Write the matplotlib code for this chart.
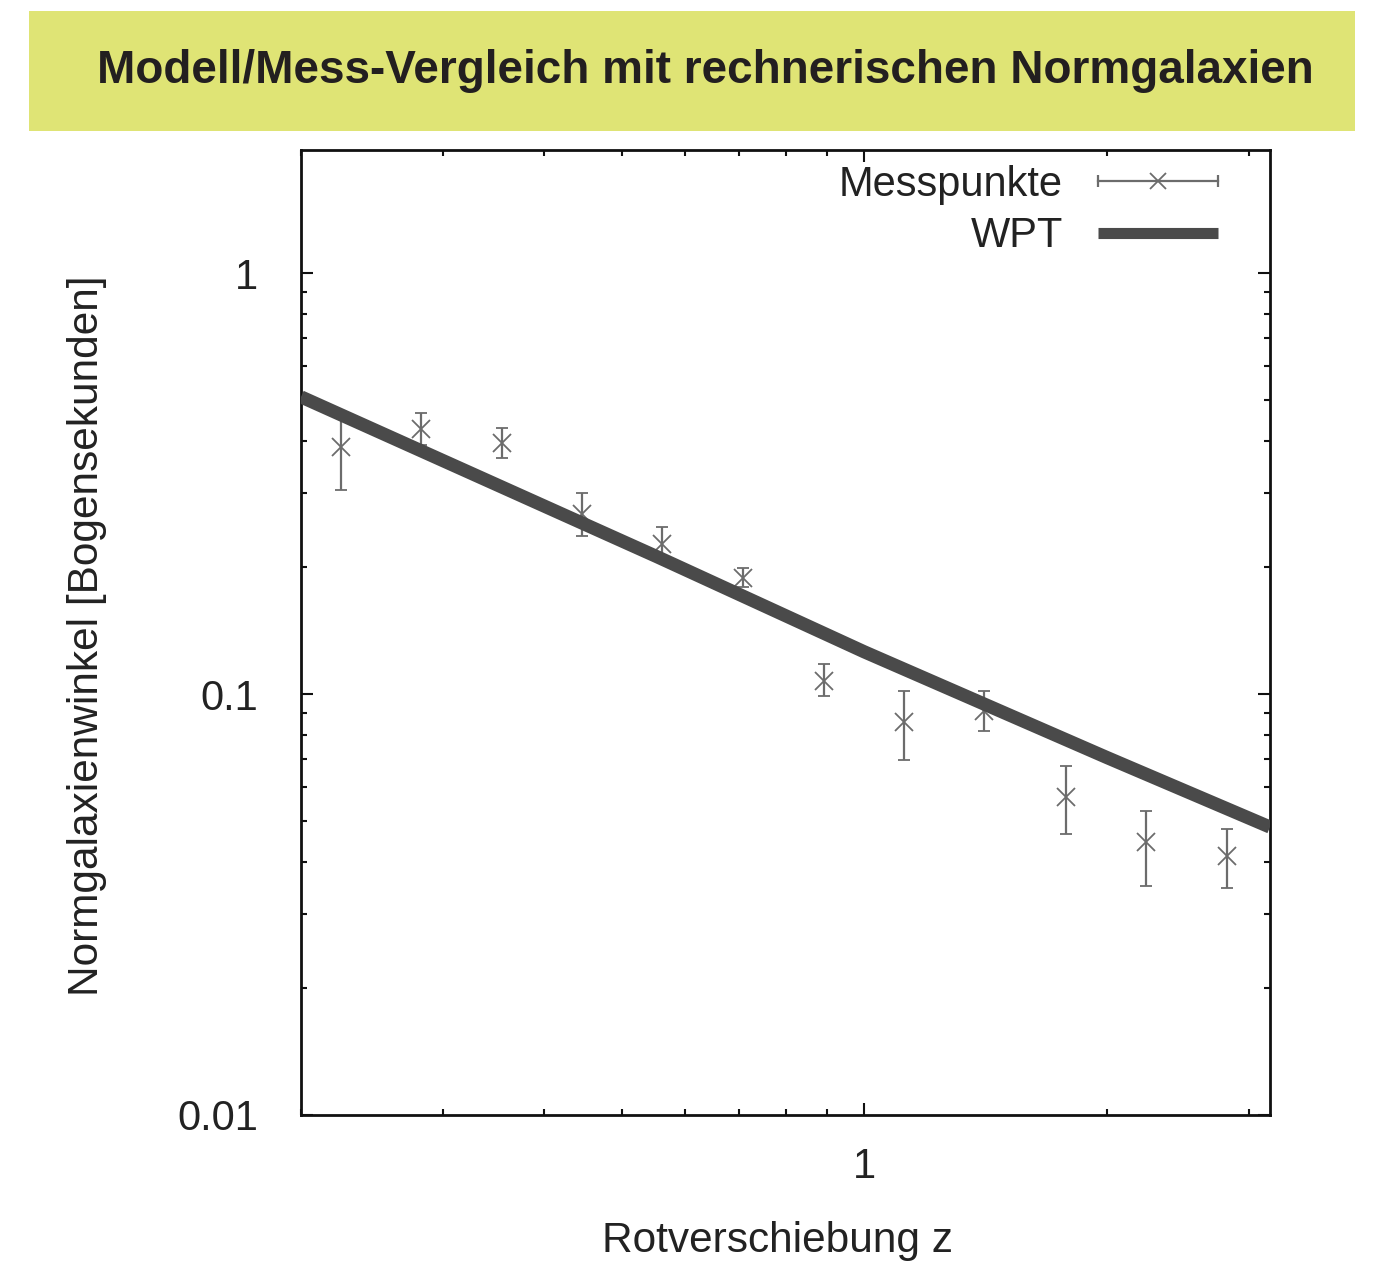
import numpy as np
import matplotlib
matplotlib.use("Agg")
import matplotlib.pyplot as plt
from matplotlib.patches import Rectangle
from matplotlib.lines import Line2D
from matplotlib.legend_handler import HandlerBase
from matplotlib.ticker import LogLocator, FuncFormatter, NullFormatter

plt.rcParams['font.family'] = ['Liberation Sans', 'DejaVu Sans']

# ---- data ----
z_mess = [0.224, 0.282, 0.355, 0.447, 0.562, 0.708, 0.891, 1.12, 1.41, 1.78, 2.24, 2.82]
theta_mess = [0.386, 0.426, 0.3946, 0.2677, 0.2271, 0.1887, 0.1074, 0.0858, 0.0911, 0.0569, 0.0445, 0.0412]
theta_hi = [0.465, 0.465, 0.4285, 0.3002, 0.2493, 0.1993, 0.1178, 0.1016, 0.1016, 0.0675, 0.0527, 0.0478]
theta_lo = [0.305, 0.390, 0.3635, 0.2373, 0.2070, 0.1796, 0.0989, 0.0697, 0.0817, 0.0465, 0.0350, 0.0346]

z_wpt = [0.2, 0.553, 1.0, 2.0, 3.19]
theta_wpt = [0.508, 0.212, 0.126, 0.0707, 0.0483]

title = "Modell/Mess-Vergleich mit rechnerischen Normgalaxien"
xlabel = "Rotverschiebung z"
ylabel = "Normgalaxienwinkel [Bogensekunden]"
label_mess = "Messpunkte"
label_wpt = "WPT"

ERR_COLOR = "#6c6c6c"
LINE_COLOR = "#4a4a4a"

W, H = 1394, 1261
fig = plt.figure(figsize=(W / 100, H / 100), dpi=100)

# title banner
fig.patches.append(Rectangle((29 / W, 1 - 131 / H), (1355 - 29) / W, 120 / H,
                             transform=fig.transFigure, facecolor="#dfe475",
                             edgecolor="none", zorder=0))
fig.text(705 / W, 1 - 83 / H, title, ha="center", va="baseline",
         fontsize=33, fontweight="bold", color="#231f20")

ax = fig.add_axes([301 / W, 1 - 1115 / H, (1270 - 301) / W, (1115 - 150) / H])
ax.set_xscale("log")
ax.set_yscale("log")

y = np.array(theta_mess)
yerr = [y - np.array(theta_lo), np.array(theta_hi) - y]
ax.errorbar(z_mess, theta_mess, yerr=yerr, fmt="x", color=ERR_COLOR,
            ms=13, mew=1.3, elinewidth=1.6, capsize=4.5, capthick=1.6, zorder=2)
ax.plot(z_wpt, theta_wpt, color=LINE_COLOR, lw=9.5, solid_capstyle="butt",
        solid_joinstyle="round", zorder=3)

ax.set_xlim(0.2, 3.19)
ax.set_ylim(0.01, 1.96)

ax.xaxis.set_major_locator(LogLocator(base=10))
ax.xaxis.set_minor_locator(LogLocator(base=10, subs=np.arange(2, 10)))
ax.yaxis.set_major_locator(LogLocator(base=10))
ax.yaxis.set_minor_locator(LogLocator(base=10, subs=np.arange(2, 10)))
fmt = FuncFormatter(lambda v, p: f"{v:g}")
ax.xaxis.set_major_formatter(fmt)
ax.yaxis.set_major_formatter(fmt)
ax.xaxis.set_minor_formatter(NullFormatter())
ax.yaxis.set_minor_formatter(NullFormatter())

ax.tick_params(which="both", direction="in", top=True, right=True, colors="#111111")
ax.tick_params(which="major", length=8.6, width=1.5)
ax.tick_params(which="minor", length=4.3, width=1.5)
ax.tick_params(axis="x", which="major", pad=23, labelsize=30, labelcolor="#222222")
ax.tick_params(axis="y", which="major", pad=31, labelsize=30, labelcolor="#222222")
for s in ax.spines.values():
    s.set_linewidth(2.0)
    s.set_color("#111111")

ax.set_xlabel(xlabel, fontsize=30.5, color="#222222")
ax.set_ylabel(ylabel, fontsize=30.5, color="#222222")
ax.xaxis.set_label_coords((777 - 301) / 969, (1115 - 1221) / 965)
ax.yaxis.set_label_coords((107 - 301) / 969, (1115 - 636) / 965)


class ErrHandler(HandlerBase):
    def create_artists(self, legend, orig_handle, xdescent, ydescent,
                       width, height, fontsize, trans):
        yc = height / 2 - ydescent
        x0, x1 = -xdescent, -xdescent + width
        ln = Line2D([x0, x1], [yc, yc], color=ERR_COLOR, lw=1.6)
        caps = Line2D([x0, x1], [yc, yc], ls="none", marker="|", ms=9,
                      mew=1.6, color=ERR_COLOR)
        mid = Line2D([(x0 + x1) / 2], [yc], ls="none", marker="x", ms=12,
                     mew=1.3, color=ERR_COLOR)
        for a in (ln, caps, mid):
            a.set_transform(trans)
        return [ln, caps, mid]


h_mess = Line2D([], [], color=ERR_COLOR)
h_wpt = Line2D([], [], color=LINE_COLOR, lw=8, solid_capstyle="butt")
leg = ax.legend([h_mess, h_wpt], [label_mess, label_wpt],
                handler_map={h_mess: ErrHandler()},
                loc="upper right", bbox_to_anchor=((1218 - 301) / 969, (1115 - 165) / 965),
                frameon=False, fontsize=30, markerfirst=False,
                handlelength=2.88, handletextpad=0.84, borderpad=0,
                borderaxespad=0, labelspacing=0.27)
for t in leg.get_texts():
    t.set_color("#222222")

fig.savefig("out.png", dpi=100)
